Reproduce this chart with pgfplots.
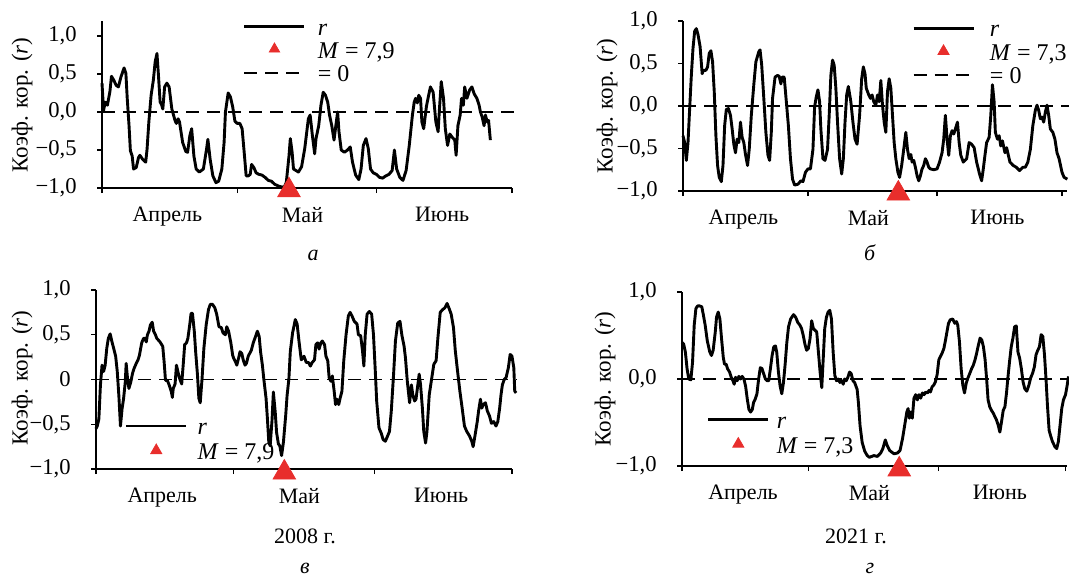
\documentclass[border=0pt]{standalone}
\usepackage{fontspec}
\setmainfont{Liberation Serif}
\usepackage{pgfplots}
\pgfplotsset{compat=1.18}
\usepackage{pgfplotstable}

\definecolor{mred}{RGB}{232,46,44}
\newcommand{\fs}{\fontsize{11}{13.2}\selectfont}
\newcommand{\ft}{\fontsize{11.3}{13.5}\selectfont}
\newcommand{\fl}{\fontsize{11.5}{13.8}\selectfont}
\newcommand{\fg}{\fontsize{12}{14.4}\selectfont}

% day of season (0 = 1 April), correlation coefficient r
\pgfplotstableread{
d r
0.0 0.38
0.35 0.02
0.7 0.13
1.2 0.09
1.76 0.27
2.1 0.47
2.6 0.42
3.16 0.35
3.65 0.33
4.2 0.46
4.9 0.58
5.3 0.51
5.6 0.18
6.0 -0.18
6.3 -0.51
6.7 -0.58
7.0 -0.75
7.6 -0.73
8.1 -0.60
8.4 -0.57
9.0 -0.62
9.7 -0.66
10.0 -0.49
10.4 -0.13
10.9 0.22
11.4 0.42
11.8 0.66
12.2 0.77
12.5 0.51
12.9 0.13
13.2 0.10
13.5 0.04
13.9 0.33
14.4 0.38
14.9 0.33
15.5 0.04
16.2 -0.11
16.5 -0.15
16.9 -0.09
17.2 -0.13
17.9 -0.40
18.6 -0.52
19.0 -0.53
19.5 -0.31
19.9 -0.22
20.4 -0.58
20.9 -0.75
21.6 -0.79
22.5 -0.75
23.2 -0.49
23.5 -0.36
24.0 -0.62
24.6 -0.84
25.3 -0.93
25.9 -0.91
26.6 -0.75
27.1 -0.40
27.4 0.00
28.0 0.25
28.5 0.20
29.0 0.07
29.5 -0.12
30.0 -0.15
30.6 -0.15
31.1 -0.22
31.5 -0.49
32.0 -0.84
32.5 -0.84
32.9 -0.82
33.2 -0.69
33.7 -0.73
34.2 -0.80
34.8 -0.82
35.5 -0.83
36.2 -0.86
36.9 -0.90
37.6 -0.91
38.3 -0.95
39.4 -0.98
40.4 -0.99
40.9 -0.93
41.5 -0.58
41.8 -0.35
42.2 -0.53
42.5 -0.75
43.6 -0.79
44.3 -0.72
45.0 -0.48
45.8 -0.09
46.2 -0.04
46.7 -0.31
47.2 -0.55
47.5 -0.35
48.1 -0.18
48.6 0.09
49.1 0.26
49.6 0.22
50.1 0.13
50.5 -0.04
51.0 -0.18
51.5 -0.37
51.9 -0.18
52.3 0.00
52.6 -0.26
53.1 -0.50
53.8 -0.53
54.5 -0.50
55.1 -0.46
55.6 -0.66
56.3 -0.83
57.0 -0.89
57.5 -0.75
58.0 -0.44
58.6 -0.35
59.1 -0.48
59.6 -0.75
60.2 -0.80
60.9 -0.82
61.6 -0.86
62.3 -0.87
63.0 -0.84
63.7 -0.82
64.4 -0.77
64.9 -0.50
65.4 -0.75
66.1 -0.86
66.8 -0.90
67.5 -0.77
68.2 -0.44
68.9 -0.04
69.3 0.13
69.6 0.18
70.0 0.12
70.3 0.22
70.7 0.18
71.0 -0.13
71.4 -0.22
72.0 0.07
72.5 0.22
72.9 0.33
73.5 0.26
74.1 -0.13
74.6 -0.26
74.9 0.04
75.3 0.40
75.8 0.18
76.2 -0.22
76.7 -0.44
77.2 -0.29
77.7 -0.33
78.3 -0.37
78.6 -0.57
79.0 -0.18
79.5 -0.04
79.8 0.18
80.2 0.09
80.5 0.33
81.0 0.18
81.6 0.29
82.1 0.33
82.6 0.24
83.2 0.18
83.7 0.09
84.0 0.00
84.4 -0.07
84.8 -0.18
85.1 -0.04
85.5 -0.13
85.8 -0.11
86.2 -0.37
}\dataA

\pgfplotstableread{
d r
0.0 -0.35
0.4 -0.43
0.8 -0.64
1.2 -0.43
1.6 -0.03
2.0 0.36
2.4 0.68
2.8 0.88
3.2 0.91
3.6 0.84
4.1 0.70
4.6 0.38
4.9 0.42
5.5 0.42
5.9 0.46
6.3 0.62
6.7 0.65
7.1 0.52
7.5 0.17
7.9 -0.35
8.3 -0.70
8.7 -0.84
9.2 -0.89
9.6 -0.70
10.0 -0.23
10.4 -0.04
10.9 -0.03
11.4 -0.11
11.8 -0.27
12.2 -0.45
12.6 -0.55
13.0 -0.39
13.4 -0.43
13.8 -0.19
14.2 -0.37
14.6 -0.43
15.0 -0.57
15.5 -0.70
15.9 -0.51
16.4 -0.11
17.0 0.25
17.5 0.52
18.2 0.64
18.5 0.66
18.9 0.48
19.4 0.09
19.9 -0.31
20.4 -0.58
20.8 -0.64
21.2 -0.31
21.5 0.09
22.1 0.34
22.7 0.36
23.1 0.35
23.5 0.26
23.8 0.34
24.3 0.34
24.6 0.17
25.3 -0.23
25.8 -0.62
26.3 -0.86
26.8 -0.93
27.6 -0.92
28.3 -0.88
28.8 -0.89
29.4 -0.78
30.0 -0.74
30.6 -0.74
31.2 -0.51
31.6 -0.01
32.0 0.11
32.4 0.19
32.8 0.05
33.1 -0.27
33.6 -0.62
34.1 -0.64
34.7 -0.51
35.1 -0.11
35.5 0.36
35.9 0.54
36.3 0.48
36.7 0.21
37.1 -0.19
37.6 -0.62
38.1 -0.80
38.5 -0.62
38.9 -0.19
39.3 0.13
39.7 0.23
40.3 0.05
40.8 -0.19
41.3 -0.39
41.8 -0.45
42.4 -0.11
42.9 0.32
43.3 0.46
43.7 0.38
44.0 0.21
44.6 0.13
45.0 0.09
45.4 0.13
45.8 0.05
46.3 0.01
46.7 0.13
47.1 0.05
47.5 0.30
47.9 0.01
48.3 -0.19
48.7 -0.31
49.1 0.17
49.5 0.32
49.9 0.21
50.3 -0.11
50.7 -0.43
51.1 -0.62
51.6 -0.78
52.0 -0.84
52.5 -0.70
53.1 -0.47
53.5 -0.31
53.9 -0.51
54.3 -0.62
54.7 -0.57
55.0 -0.66
55.4 -0.64
55.8 -0.72
56.2 -0.82
56.6 -0.88
57.0 -0.82
57.4 -0.74
57.8 -0.70
58.2 -0.62
58.6 -0.66
59.0 -0.72
59.4 -0.74
60.2 -0.75
61.0 -0.74
61.6 -0.66
62.2 -0.55
62.6 -0.39
63.0 -0.11
63.4 -0.39
63.8 -0.58
64.2 -0.35
64.6 -0.29
65.0 -0.33
65.4 -0.27
65.9 -0.19
66.3 -0.43
66.7 -0.58
67.3 -0.66
68.1 -0.62
68.7 -0.43
69.3 -0.45
69.9 -0.49
70.5 -0.66
71.2 -0.80
71.7 -0.88
72.1 -0.74
72.5 -0.58
72.9 -0.43
73.5 -0.37
73.9 -0.11
74.3 0.25
74.7 0.05
75.0 -0.31
75.5 -0.39
75.9 -0.35
76.3 -0.47
76.7 -0.41
77.3 -0.55
77.7 -0.49
78.5 -0.66
79.3 -0.70
80.0 -0.72
80.8 -0.76
81.6 -0.72
82.2 -0.72
82.8 -0.66
83.4 -0.51
84.0 -0.23
84.6 -0.05
85.0 0.01
85.4 -0.05
85.8 -0.15
86.2 -0.13
86.6 -0.19
87.0 -0.07
87.4 0.01
87.8 -0.11
88.2 -0.27
88.8 -0.31
89.3 -0.39
89.8 -0.55
90.3 -0.62
91.0 -0.78
91.5 -0.84
92.3 -0.86
}\dataB

\pgfplotstableread{
d r
0.0 -0.55
0.28 -0.52
0.63 -0.44
0.97 -0.06
1.32 0.16
1.67 0.09
2.0 0.16
2.36 0.35
2.7 0.46
3.1 0.51
3.5 0.42
3.96 0.33
4.3 0.26
4.65 0.09
5.0 -0.18
5.35 -0.52
5.7 -0.33
6.04 -0.21
6.4 -0.03
6.6 0.18
6.9 0.01
7.2 -0.10
7.6 -0.03
8.0 0.07
8.3 0.12
8.8 0.18
9.2 0.22
9.5 0.27
10.0 0.41
10.4 0.46
10.7 0.46
11.0 0.42
11.25 0.50
11.6 0.54
11.9 0.61
12.3 0.64
12.6 0.54
13.0 0.50
13.3 0.46
14.0 0.42
14.6 0.37
14.9 0.20
15.2 -0.01
15.6 -0.01
16.0 -0.06
16.5 -0.14
16.7 -0.20
16.9 -0.10
17.3 -0.05
17.6 0.16
18.0 0.07
18.3 0.01
18.75 -0.05
19.1 0.18
19.4 0.39
19.8 0.41
20.1 0.46
20.5 0.61
20.8 0.74
21.1 0.74
21.5 0.54
21.8 0.31
22.2 0.05
22.5 -0.21
22.8 -0.26
23.2 0.01
23.6 0.35
24.1 0.61
24.6 0.78
25.0 0.84
25.5 0.84
26.0 0.80
26.4 0.73
26.9 0.59
27.4 0.58
27.8 0.52
28.3 0.50
28.6 0.59
29.0 0.54
29.5 0.41
29.9 0.27
30.1 0.24
30.5 0.20
30.8 0.16
31.2 0.24
31.5 0.31
31.9 0.29
32.2 0.22
32.6 0.16
32.9 0.18
33.3 0.26
33.6 0.29
34.0 0.33
34.4 0.41
34.9 0.48
35.3 0.54
35.7 0.48
36.0 0.31
36.4 0.16
36.7 0.01
37.2 -0.21
37.5 -0.44
37.8 -0.70
38.1 -0.74
38.5 -0.46
38.8 -0.14
39.2 -0.36
39.5 -0.59
39.9 -0.72
40.2 -0.74
40.6 -0.85
41.0 -0.70
41.5 -0.40
41.8 -0.18
42.2 0.01
42.5 0.31
43.0 0.52
43.6 0.67
44.0 0.62
44.4 0.43
44.9 0.22
45.5 0.26
46.0 0.19
46.5 0.19
46.9 0.15
47.3 0.19
47.8 0.22
48.1 0.39
48.5 0.41
48.8 0.34
49.2 0.41
49.5 0.43
50.0 0.39
50.3 0.26
50.7 0.21
51.0 0.02
51.4 -0.02
51.7 0.04
52.1 -0.13
52.4 -0.28
52.7 -0.22
53.1 -0.28
53.4 -0.21
53.8 -0.13
54.2 0.21
54.7 0.50
55.2 0.71
55.6 0.75
56.0 0.71
56.5 0.65
57.1 0.62
57.4 0.50
57.9 0.49
58.3 0.32
58.6 0.15
58.9 0.50
59.3 0.73
59.8 0.76
60.3 0.73
60.7 0.50
61.1 0.09
61.4 -0.24
61.9 -0.54
62.4 -0.60
62.8 -0.67
63.3 -0.69
63.8 -0.63
64.2 -0.58
64.6 -0.35
65.1 0.06
65.5 0.43
66.0 0.63
66.5 0.65
66.9 0.50
67.4 0.37
67.7 0.24
68.1 -0.02
68.6 -0.26
69.0 -0.06
69.3 -0.17
69.7 -0.24
70.0 -0.22
70.4 -0.06
70.7 0.06
71.0 -0.06
71.4 -0.32
71.7 -0.58
72.1 -0.71
72.4 -0.58
72.9 -0.17
73.4 0.00
73.9 0.17
74.4 0.21
74.8 0.47
75.3 0.75
75.8 0.78
76.3 0.80
76.8 0.85
77.2 0.80
77.7 0.73
78.2 0.58
78.6 0.32
79.1 0.09
79.6 -0.13
80.1 -0.32
80.6 -0.52
81.1 -0.58
81.7 -0.63
82.2 -0.69
82.5 -0.75
82.9 -0.63
83.4 -0.47
83.7 -0.35
84.1 -0.22
84.4 -0.32
84.7 -0.28
85.2 -0.26
85.6 -0.35
86.1 -0.41
86.5 -0.49
87.0 -0.47
87.5 -0.52
87.9 -0.47
88.3 -0.32
88.6 -0.17
88.9 -0.06
89.3 0.00
89.7 0.02
90.2 0.13
90.6 0.28
91.0 0.26
91.4 0.13
91.6 -0.13
91.9 -0.15
}\dataC

\pgfplotstableread{
d r
0.0 0.42
0.4 0.40
0.8 0.31
1.2 0.12
1.6 0.00
2.1 -0.01
2.5 0.19
2.9 0.62
3.3 0.81
3.7 0.84
4.2 0.84
4.7 0.83
5.1 0.73
5.5 0.62
6.0 0.44
6.6 0.31
7.0 0.27
7.4 0.33
7.9 0.54
8.2 0.71
8.6 0.77
9.0 0.69
9.4 0.46
9.8 0.25
10.1 0.17
10.5 0.17
10.8 0.12
11.3 0.08
11.7 0.02
12.1 -0.02
12.4 -0.06
12.7 0.02
13.1 -0.02
13.5 0.03
13.9 0.00
14.3 0.03
14.7 0.00
15.1 -0.08
15.5 -0.23
15.9 -0.35
16.3 -0.38
16.7 -0.35
17.0 -0.27
17.4 -0.23
17.8 -0.17
18.2 0.00
18.6 0.13
19.0 0.12
19.4 0.06
19.8 0.00
20.2 -0.02
20.6 -0.02
21.0 0.12
21.4 0.27
21.8 0.37
22.2 0.38
22.5 0.31
22.9 0.08
23.3 -0.08
23.7 -0.17
24.1 -0.04
24.5 0.17
24.9 0.42
25.3 0.60
25.8 0.69
26.5 0.74
27.0 0.71
27.5 0.65
28.0 0.62
28.4 0.58
28.8 0.50
29.2 0.40
29.6 0.33
30.0 0.35
30.4 0.46
30.8 0.67
31.2 0.58
31.6 0.56
32.0 0.54
32.4 0.31
32.8 0.08
33.2 -0.10
33.5 0.19
33.9 0.58
34.3 0.71
34.7 0.77
35.1 0.79
35.5 0.69
35.9 0.31
36.3 0.04
36.7 -0.02
37.1 0.00
37.5 -0.04
37.9 -0.02
38.3 -0.06
38.6 0.00
39.0 -0.02
39.4 0.02
39.8 0.08
40.2 0.06
40.6 -0.02
41.0 -0.04
41.6 -0.12
41.9 -0.27
42.3 -0.54
42.8 -0.73
43.4 -0.83
44.0 -0.88
44.5 -0.90
45.6 -0.88
46.4 -0.89
47.2 -0.85
47.7 -0.80
48.3 -0.70
48.7 -0.76
49.3 -0.82
49.8 -0.84
50.4 -0.86
51.2 -0.85
51.8 -0.82
52.4 -0.68
52.9 -0.53
53.4 -0.38
53.7 -0.34
54.0 -0.45
54.3 -0.38
54.7 -0.45
55.1 -0.22
55.5 -0.18
55.9 -0.24
56.3 -0.18
56.7 -0.22
57.1 -0.16
57.5 -0.18
57.9 -0.15
58.3 -0.16
58.7 -0.13
59.0 -0.15
59.4 -0.09
59.8 -0.07
60.2 -0.03
60.6 0.05
61.0 0.22
61.4 0.26
61.8 0.30
62.2 0.35
62.6 0.45
63.0 0.56
63.3 0.64
63.7 0.68
64.3 0.69
64.8 0.64
65.2 0.66
65.5 0.62
65.9 0.43
66.3 0.12
66.7 -0.07
67.1 -0.16
67.5 -0.05
67.9 0.01
68.4 0.07
68.8 0.12
69.2 0.16
69.6 0.22
70.0 0.30
70.4 0.39
70.8 0.47
71.2 0.45
71.6 0.37
72.0 0.22
72.4 -0.03
72.7 -0.24
73.1 -0.32
73.5 -0.36
73.9 -0.39
74.3 -0.43
74.7 -0.47
75.1 -0.53
75.5 -0.61
75.9 -0.49
76.3 -0.36
76.7 -0.32
77.1 -0.15
77.4 0.01
77.8 0.20
78.2 0.37
78.6 0.47
79.0 0.60
79.4 0.61
79.8 0.31
80.2 0.24
80.6 0.12
81.0 -0.03
81.4 -0.11
81.9 -0.14
82.4 -0.07
82.8 0.01
83.3 0.07
83.7 0.14
84.1 0.28
84.5 0.33
84.9 0.37
85.3 0.51
85.7 0.49
86.1 0.28
86.5 -0.03
86.8 -0.30
87.2 -0.59
87.6 -0.66
88.0 -0.72
88.6 -0.78
89.0 -0.80
89.4 -0.72
89.8 -0.53
90.2 -0.34
90.6 -0.24
91.1 -0.18
91.5 -0.07
91.8 0.03
}\dataD

\pgfplotsset{
  panel/.style={
    scale only axis, clip=false, anchor=south west,
    axis x line*=bottom, axis y line*=left,
    axis line style={line width=0.6pt},
    every tick/.style={black, line width=0.6pt},
    tick align=outside, major tick length=2.5pt,
    xmin=0, ymin=-1,
    xtick={0,30,61,91}, xticklabels={,,,},
    extra x ticks={14.5,44.5,75.5},
    extra x tick labels={Апрель,Май,Июнь},
    extra x tick style={major tick length=0pt,
      xticklabel style={inner sep=0pt, yshift=-9.5pt, font=\fs}},
    yticklabel style={inner sep=0pt, xshift=-10pt, font=\ft},
    legend cell align=left,
    legend style={draw=none, fill=none, inner sep=0pt, outer sep=0pt,
      anchor=north west, row sep=0pt, font=\fg,
      nodes={inner sep=0pt, text height=7.5pt, text depth=4pt}},
  },
  rline/.style={black, line width=1.45pt, line join=round},
  zline/.style={black, line width=0.9pt, dash pattern=on 6.5pt off 4pt},
  bigtri/.style={only marks, mark=triangle*, mark size=6.5pt, color=mred},
  legline/.style={legend image code/.code={\draw[##1] (0pt,2.5pt) -- (30pt,2.5pt);}},
  legtri/.style={legend image code/.code={\draw[##1] plot coordinates {(15pt,2.8pt)};}},
}

\begin{document}
\begin{tikzpicture}[x=0.5pt, y=0.5pt, font=\fs]
\path[use as bounding box] (0,0) rectangle (1069,575);

% а
\begin{axis}[panel, at={(51pt,193.5pt)}, width=205pt, height=83.6pt,
  xmax=91, ymax=1.2, ytick={-1,-0.5,0,0.5,1},
  yticklabels={{−1,0},{−0,5},{0,0},{0,5},{1,0}},
  legend style={at={(axis cs:31.3,1.21)}, column sep=6pt}]
\addlegendimage{rline, legline}
\addlegendentry{\textit{r}}
\addlegendimage{only marks, mark=triangle*, mark size=3pt, color=mred, legtri}
\addlegendentry{\textit{M} = 7,9}
\addlegendimage{zline, legline}
\addlegendentry{= 0}
\addplot[zline, forget plot] coordinates {(0,0) (92.1,0)};
\addplot[rline, forget plot] table[x=d, y=r] {\dataA};
\addplot[bigtri, forget plot] coordinates {(41.5,-1.03)};
\end{axis}

% б
\begin{axis}[panel, at={(341.5pt,192pt)}, width=192pt, height=85pt,
  xmax=92.2, ymax=1, ytick={-1,-0.5,0,0.5,1},
  yticklabels={{−1,0},{−0,5},{0,0},{0,5},{1,0}},
  legend style={at={(axis cs:55.0,0.99)}, column sep=7.5pt}]
\addlegendimage{rline, legline}
\addlegendentry{\textit{r}}
\addlegendimage{only marks, mark=triangle*, mark size=3.2pt, color=mred, legtri}
\addlegendentry{\textit{M} = 7,3}
\addlegendimage{zline, legline}
\addlegendentry{= 0}
\addplot[zline, forget plot] coordinates {(0,0) (92.8,0)};
\addplot[rline, forget plot] table[x=d, y=r] {\dataB};
\addplot[bigtri, forget plot] coordinates {(51.7,-1.03)};
\end{axis}

% в
\begin{axis}[panel, at={(48pt,53pt)}, width=208pt, height=89.5pt,
  xmax=91, ymax=1, ytick={-1,-0.5,0,0.5,1},
  yticklabels={{−1,0},{−0,5},0,{0,5},{1,0}},
  legend style={at={(axis cs:6.3,-0.436)}, column sep=5pt,
    nodes={text height=8pt, text depth=4.5pt}}]
\addlegendimage{rline, legline}
\addlegendentry{\textit{r}}
\addlegendimage{only marks, mark=triangle*, mark size=3.2pt, color=mred, legtri}
\addlegendentry{\textit{M} = 7,9}
\addplot[zline, forget plot] coordinates {(0,0) (92.1,0)};
\addplot[rline, forget plot] table[x=d, y=r] {\dataC};
\addplot[bigtri, forget plot] coordinates {(41.2,-1.04)};
\end{axis}

% г
\begin{axis}[panel, at={(341pt,54.5pt)}, width=192.6pt, height=87pt,
  xmax=91.5, ymax=1, ytick={-1,0,1},
  yticklabels={{−1,0},{0,0},{1,0}},
  legend style={at={(axis cs:5.9,-0.38)}, column sep=3.5pt,
    nodes={text height=8pt, text depth=4.5pt}}]
\addlegendimage{rline, legline}
\addlegendentry{\textit{r}}
\addlegendimage{only marks, mark=triangle*, mark size=3.2pt, color=mred, legtri}
\addlegendentry{\textit{M} = 7,3}
\addplot[zline, forget plot] coordinates {(0,0) (92.5,0)};
\addplot[rline, forget plot] table[x=d, y=r] {\dataD};
\addplot[bigtri, forget plot] coordinates {(51.6,-1.04)};
\end{axis}

% axis titles and captions
\begin{scope}[font=\fl]
\node[rotate=90] at (22,470) {Коэф. кор. (\textit{r})};
\node[rotate=90] at (607,469) {Коэф. кор. (\textit{r})};
\node[rotate=90] at (22,197) {Коэф. кор. (\textit{r})};
\node[rotate=90] at (605,196) {Коэф. кор. (\textit{r})};
\end{scope}
\node[anchor=base] at (313,315) {\textit{а}};
\node[anchor=base] at (870,315) {\textit{б}};
\node[anchor=base] at (305,32) {2008 г.};
\node[anchor=base] at (305,2) {\textit{в}};
\node[anchor=base] at (856,32) {2021 г.};
\node[anchor=base] at (870,2) {\textit{г}};
\end{tikzpicture}
\end{document}
